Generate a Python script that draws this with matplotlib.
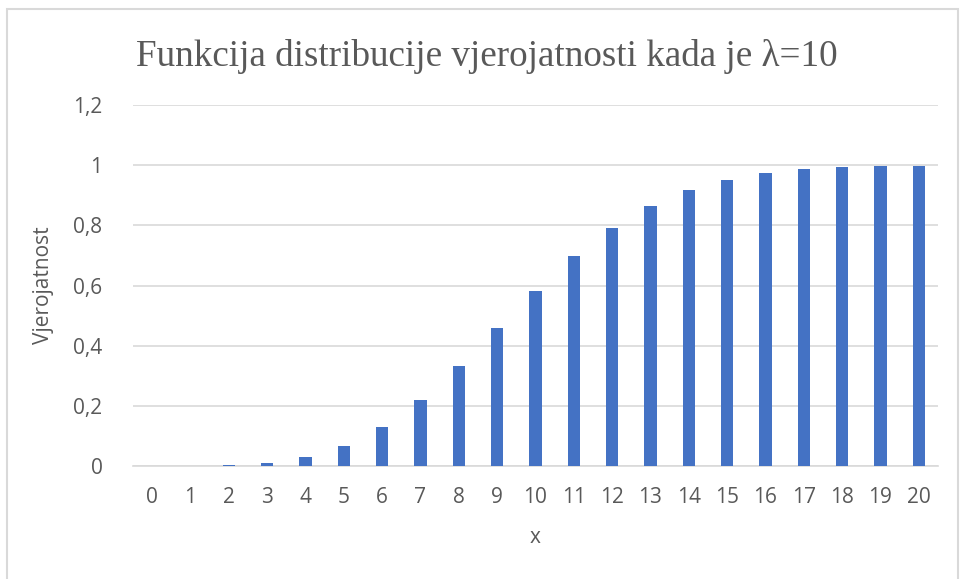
import numpy as np
import matplotlib.pyplot as plt
from matplotlib.patches import Rectangle

# Poisson CDF, lambda = 10
x_vals = list(range(21))
cdf = [0.0000454, 0.0005, 0.0028, 0.0103, 0.0293, 0.0671, 0.1301, 0.2202,
       0.3328, 0.4579, 0.5830, 0.6968, 0.7916, 0.8645, 0.9165, 0.9513,
       0.9730, 0.9857, 0.9928, 0.9965, 0.9984]
y_ticks = [0, 0.2, 0.4, 0.6, 0.8, 1.0, 1.2]
y_tick_labels = ["0", "0,2", "0,4", "0,6", "0,8", "1", "1,2"]

text_col = "#595959"
bar_col = "#4472C4"
grid_col = "#D9D9D9"

fig = plt.figure(figsize=(9.6, 5.79), dpi=100)
ax = fig.add_axes([0.1385, 0.195, 0.8385, 0.6237])

ax.bar(x_vals, cdf, width=0.32, color=bar_col, zorder=3)

ax.set_xlim(-0.5, 20.5)
ax.set_ylim(0, 1.2)
ax.set_yticks(y_ticks)
ax.set_yticklabels(y_tick_labels)
ax.set_xticks(x_vals)
ax.set_xticklabels([str(v) for v in x_vals])

ax.grid(axis="y", color=grid_col, linewidth=1.2, zorder=0)
for s in ["top", "right", "left"]:
    ax.spines[s].set_visible(False)
ax.spines["bottom"].set_color(grid_col)
ax.spines["bottom"].set_linewidth(1.2)
ax.tick_params(axis="x", length=0, labelsize=15, labelcolor=text_col, pad=15)
ax.tick_params(axis="y", length=0, labelsize=15, labelcolor=text_col, pad=22)
for lbl in ax.get_xticklabels() + ax.get_yticklabels():
    lbl.set_family("Open Sans")

ax.set_xlabel("x", fontsize=15, color=text_col, family="Open Sans", labelpad=14)
ax.set_ylabel("Vjerojatnost", fontsize=15, color=text_col, family="Open Sans",
              labelpad=14)

fig.text(0.507, 0.902, "Funkcija distribucije vjerojatnosti kada je λ=10",
         ha="center", va="center", fontsize=26.7, color=text_col,
         family="Liberation Serif")

# outer chart border
fig.patches.append(Rectangle((7 / 960, -0.01), 951 / 960, 1 - 9 / 579 + 0.01,
                             transform=fig.transFigure, fill=False,
                             edgecolor=grid_col, linewidth=1.5))

fig.savefig("out.png", dpi=100)
